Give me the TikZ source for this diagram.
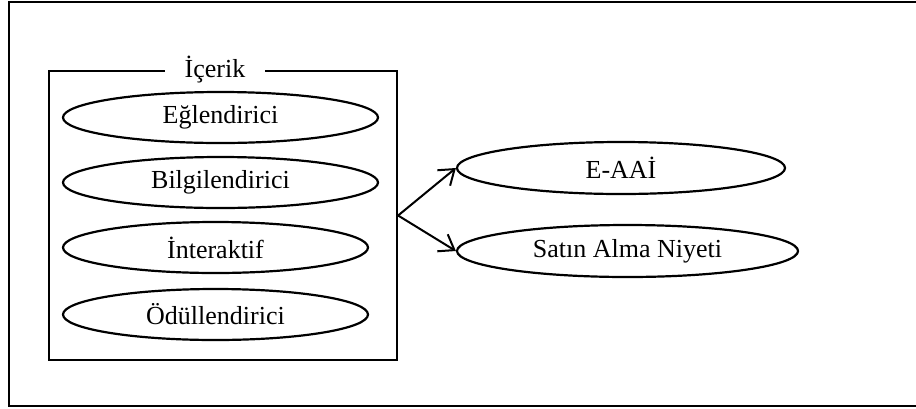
\documentclass[tikz,border=0pt]{standalone}
\usepackage{fontspec}
\setmainfont{Liberation Serif}
\usetikzlibrary{shapes.geometric,arrows.meta}
\begin{document}
\begin{tikzpicture}[x=0.5pt,y=-0.5pt,
  oval/.style={draw,ellipse,line width=1.1pt,inner sep=0pt,minimum height=25.5pt,
    font=\fontsize{13pt}{15pt}\selectfont},
  conn/.style={line width=1pt,-{Straight Barb[length=7pt,width=10pt,line width=1pt]}}]
\useasboundingbox (0,0) rectangle (916,408);
\clip (0,0) rectangle (916,408);
\draw[line width=0.6pt] (918,2) -- (9,2) -- (9,406) -- (918,406);
\node[draw,line width=1.1pt,minimum width=174pt,minimum height=144.5pt,inner sep=0pt] (box) at (223,215.5) {};
\node[fill=white,inner xsep=10pt,inner ysep=1pt,font=\fontsize{13pt}{15pt}\selectfont] (lbl) at (215,70) {İçerik};
\node[oval,minimum width=157.5pt] (e1) at (220.5,117.5) {Eğlendirici};
\node[oval,minimum width=157.5pt] (e2) at (220.5,182.5) {Bilgilendirici};
\node[oval,minimum width=152.5pt] (e3) at (215.5,247.5) {İnteraktif};
\node[oval,minimum width=152.5pt] (e4) at (215.5,314.5) {Ödüllendirici};
\node[oval,minimum width=164pt,minimum height=26pt] (eaai) at (621,168) {E-AAİ};
\node[oval,minimum width=170.5pt,minimum height=26pt] (satin) at (627.5,251) {Satın Alma Niyeti};
\draw[conn] (box.east) -- (eaai.west);
\draw[conn] (box.east) -- (satin.west);
\end{tikzpicture}
\end{document}
